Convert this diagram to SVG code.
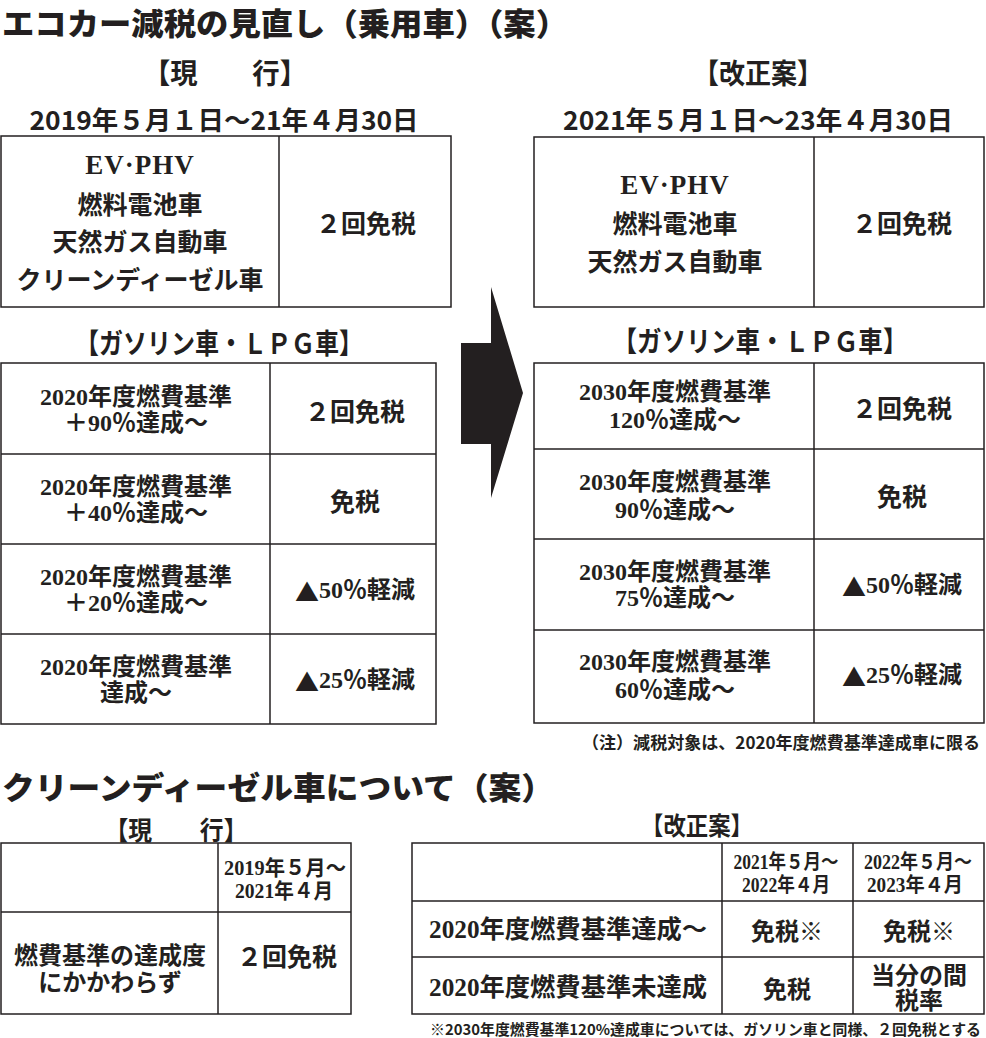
<svg xmlns="http://www.w3.org/2000/svg" width="986" height="1038" viewBox="0 0 986 1038">
<style>
.g{font-family:"Noto Sans CJK JP","Noto Sans CJK SC",sans-serif;font-weight:700;fill:#231f20}
.m{font-family:"Liberation Serif","Noto Sans CJK JP",serif;font-weight:700;fill:#231f20}
.k{font-family:"Noto Sans CJK JP",sans-serif}
.c{text-anchor:middle;dominant-baseline:central}
.l{dominant-baseline:central}
.box{fill:#fff;stroke:#231f20;stroke-width:1.5}
.ln{stroke:#231f20;stroke-width:1.5}
.h1{font-size:31px;font-weight:900}
.h2{font-size:28px}
.cell{font-size:25px}
.row{font-size:24px}
.sm{font-size:17px}
</style>
<rect width="986" height="1038" fill="#fff"/>

<g id="title1"><text class="g h1 l" x="2" y="21" textLength="566" lengthAdjust="spacingAndGlyphs">エコカー減税の見直し（乗用車）（案）</text></g>

<g id="current-head">
<text class="g h2 c" x="225" y="72" textLength="164" lengthAdjust="spacingAndGlyphs">【現　　行】</text>
<text class="g c" font-size="26" x="224" y="118" textLength="389" lengthAdjust="spacingAndGlyphs">2019年５月１日～21年４月30日</text>
</g>

<g id="current-ev">
<rect class="box" x="1" y="136" width="450" height="171"/>
<line class="ln" x1="279" y1="136" x2="279" y2="307"/>
<text class="m c" font-size="27" x="140" y="165" letter-spacing="1">EV·PHV</text>
<text class="g cell c" x="140" y="203">燃料電池車</text>
<text class="g cell c" x="140" y="240">天然ガス自動車</text>
<text class="g cell c" x="140" y="278">クリーンディーゼル車</text>
<text class="g cell c" x="366" y="222">２回免税</text>
</g>

<g id="current-gas-head"><text class="g h2 c" x="219" y="342" textLength="288" lengthAdjust="spacingAndGlyphs">【ガソリン車・ＬＰＧ車】</text></g>

<g id="current-gas">
<rect class="box" x="1" y="363" width="435" height="361"/>
<line class="ln" x1="270" y1="363" x2="270" y2="724"/>
<line class="ln" x1="1" y1="454" x2="436" y2="454"/>
<line class="ln" x1="1" y1="544" x2="436" y2="544"/>
<line class="ln" x1="1" y1="634" x2="436" y2="634"/>
<text class="m row c" x="136" y="397">2020年度燃費基準</text>
<text class="m row c" x="136" y="423">＋90％達成～</text>
<text class="g cell c" x="355" y="410">２回免税</text>
<text class="m row c" x="136" y="487">2020年度燃費基準</text>
<text class="m row c" x="136" y="513">＋40％達成～</text>
<text class="g cell c" x="355" y="500">免税</text>
<text class="m row c" x="136" y="577">2020年度燃費基準</text>
<text class="m row c" x="136" y="603">＋20％達成～</text>
<text class="m row c" x="355" y="590"><tspan class="k">▲</tspan>50％軽減</text>
<text class="m row c" x="136" y="667">2020年度燃費基準</text>
<text class="m row c" x="136" y="693">達成～</text>
<text class="m row c" x="355" y="680"><tspan class="k">▲</tspan>25％軽減</text>
</g>

<g id="connectors">
<polygon points="461,343 491,343 491,287 523,393 491,498 491,444 461,444" fill="#231f20"/>
</g>

<g id="proposal-head">
<text class="g h2 c" x="758" y="72" textLength="130" lengthAdjust="spacingAndGlyphs">【改正案】</text>
<text class="g c" font-size="26" x="758" y="118" textLength="390" lengthAdjust="spacingAndGlyphs">2021年５月１日～23年４月30日</text>
</g>

<g id="proposal-ev">
<rect class="box" x="534" y="137" width="450" height="170"/>
<line class="ln" x1="814" y1="137" x2="814" y2="307"/>
<text class="m c" font-size="27" x="675" y="185" letter-spacing="1">EV·PHV</text>
<text class="g cell c" x="675" y="222">燃料電池車</text>
<text class="g cell c" x="675" y="260">天然ガス自動車</text>
<text class="g cell c" x="902" y="222">２回免税</text>
</g>

<g id="proposal-gas-head"><text class="g h2 c" x="760" y="340" textLength="295" lengthAdjust="spacingAndGlyphs">【ガソリン車・ＬＰＧ車】</text></g>

<g id="proposal-gas">
<rect class="box" x="534" y="363" width="450" height="360"/>
<line class="ln" x1="814" y1="363" x2="814" y2="723"/>
<line class="ln" x1="534" y1="449" x2="984" y2="449"/>
<line class="ln" x1="534" y1="539" x2="984" y2="539"/>
<line class="ln" x1="534" y1="630" x2="984" y2="630"/>
<text class="m row c" x="675" y="392">2030年度燃費基準</text>
<text class="m row c" x="675" y="420">120％達成～</text>
<text class="g cell c" x="902" y="407">２回免税</text>
<text class="m row c" x="675" y="482">2030年度燃費基準</text>
<text class="m row c" x="675" y="510">90％達成～</text>
<text class="g cell c" x="902" y="495">免税</text>
<text class="m row c" x="675" y="572">2030年度燃費基準</text>
<text class="m row c" x="675" y="598">75％達成～</text>
<text class="m row c" x="902" y="585"><tspan class="k">▲</tspan>50％軽減</text>
<text class="m row c" x="675" y="662">2030年度燃費基準</text>
<text class="m row c" x="675" y="690">60％達成～</text>
<text class="m row c" x="902" y="675"><tspan class="k">▲</tspan>25％軽減</text>
</g>

<g id="note1"><text class="g sm l" x="582" y="741" textLength="398" lengthAdjust="spacingAndGlyphs">（注）減税対象は、2020年度燃費基準達成車に限る</text></g>

<g id="title2"><text class="g h1 l" x="2" y="785" textLength="552" lengthAdjust="spacingAndGlyphs">クリーンディーゼル車について（案）</text></g>

<g id="diesel-current-head"><text class="g c" font-size="26" x="176" y="828" textLength="143" lengthAdjust="spacingAndGlyphs">【現　　行】</text></g>

<g id="diesel-current">
<rect class="box" x="1" y="843" width="350" height="171"/>
<line class="ln" x1="218" y1="843" x2="218" y2="1014"/>
<line class="ln" x1="1" y1="912" x2="351" y2="912"/>
<text class="m c" font-size="21" x="285" y="868" textLength="122" lengthAdjust="spacingAndGlyphs">2019年５月～</text>
<text class="m c" font-size="21" x="284" y="891" textLength="98" lengthAdjust="spacingAndGlyphs">2021年４月</text>
<text class="g c" font-size="24"><tspan x="110" y="953">燃費基準の達成度</tspan><tspan x="110" y="980">にかかわらず</tspan></text>
<text class="g cell c" x="287" y="955">２回免税</text>
</g>

<g id="diesel-proposal-head"><text class="g c" font-size="25" x="697" y="824" textLength="112" lengthAdjust="spacingAndGlyphs">【改正案】</text></g>

<g id="diesel-proposal">
<rect class="box" x="412" y="843" width="572" height="171"/>
<line class="ln" x1="722" y1="843" x2="722" y2="1014"/>
<line class="ln" x1="853" y1="843" x2="853" y2="1014"/>
<line class="ln" x1="412" y1="901" x2="984" y2="901"/>
<line class="ln" x1="412" y1="957" x2="984" y2="957"/>
<text class="m c" font-size="20" x="786" y="862" textLength="105" lengthAdjust="spacingAndGlyphs">2021年５月～</text>
<text class="m c" font-size="20" x="786" y="885" textLength="88" lengthAdjust="spacingAndGlyphs">2022年４月</text>
<text class="m c" font-size="20" x="918" y="862" textLength="108" lengthAdjust="spacingAndGlyphs">2022年５月～</text>
<text class="m c" font-size="20" x="915" y="885" textLength="96" lengthAdjust="spacingAndGlyphs">2023年４月</text>
<text class="m c" font-size="25" x="568" y="929" textLength="278" lengthAdjust="spacingAndGlyphs">2020年度燃費基準達成～</text>
<text class="g row c" x="787" y="929">免税※</text>
<text class="g row c" x="919" y="929">免税※</text>
<text class="m c" font-size="25" x="568" y="987" textLength="278" lengthAdjust="spacingAndGlyphs">2020年度燃費基準未達成</text>
<text class="g row c" x="787" y="987">免税</text>
<text class="g c" font-size="24"><tspan x="919" y="973">当分の間</tspan><tspan x="919" y="998">税率</tspan></text>
</g>

<g id="note2"><text class="g l" font-size="15" x="430" y="1028" textLength="551" lengthAdjust="spacingAndGlyphs">※2030年度燃費基準120%達成車については、ガソリン車と同様、２回免税とする</text></g>
</svg>
